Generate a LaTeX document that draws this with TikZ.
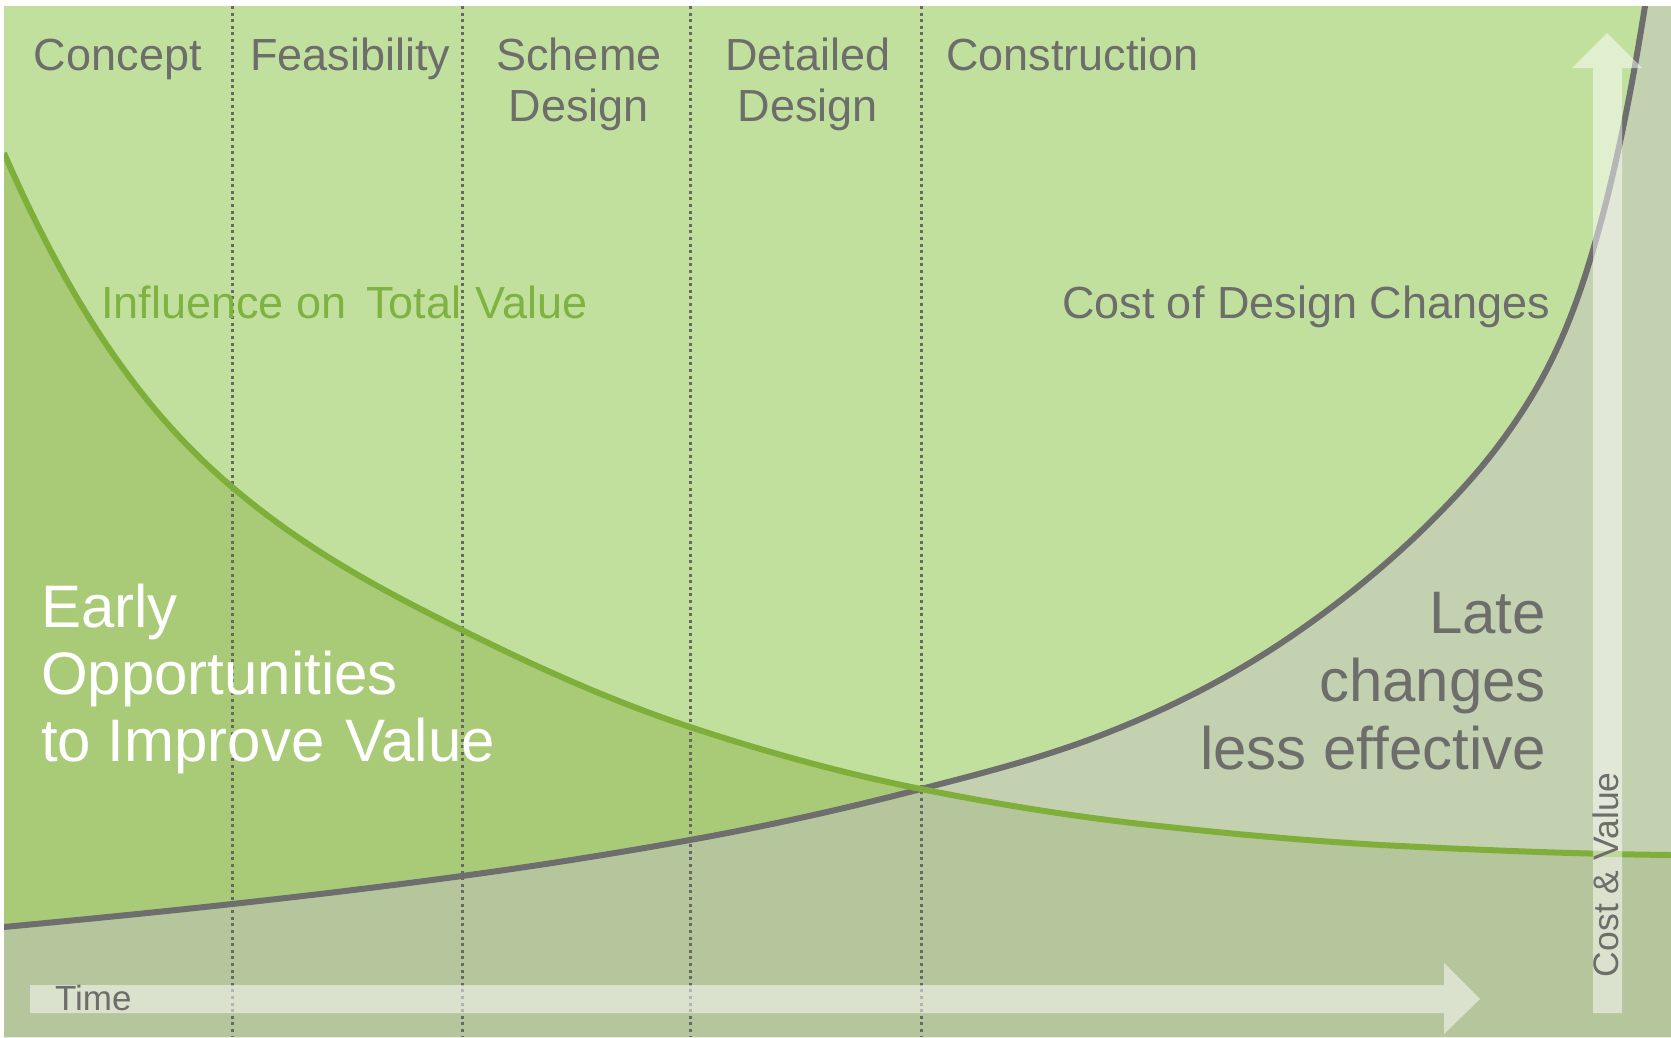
\documentclass[tikz,border=0pt]{standalone}
\usepackage{fontspec}
\setmainfont{Liberation Sans}
\definecolor{bglight}{HTML}{C1E09D}
\definecolor{midgreen}{HTML}{A9CB77}
\definecolor{graygreen}{HTML}{C3D1B0}
\definecolor{lowgreen}{HTML}{B6C69C}
\definecolor{greenline}{HTML}{7FAF3A}
\definecolor{grayline}{HTML}{6E6E6E}
\definecolor{textgray}{HTML}{6D6E6B}
\definecolor{textgreen}{HTML}{80B242}
\definecolor{dotgray}{HTML}{676965}
\begin{document}
\begin{tikzpicture}[x=1pt,y=-1pt,
  lab/.style={inner sep=0pt, outer sep=0pt},
  toplab/.style={lab, text=textgray, font=\fontsize{45}{51}\selectfont},
  biglab/.style={lab, font=\fontsize{60}{68}\selectfont},
  smalllab/.style={lab, text=textgray},
  phase/.style={dotgray, line width=3pt, dash pattern=on 3pt off 3.6pt},
  curveline/.style={line width=6pt},
  axisarrow/.style={fill=white, fill opacity=0.5}
]
\def\greenpath{(4,153) .. controls (80,327.8) and (156,422.4) .. (232,487)
  .. controls (308.7,552.2) and (385.3,591.7) .. (462,630)
  .. controls (538,668) and (614,701.9) .. (690,727)
  .. controls (767,752.4) and (844,773.6) .. (921,789)
  .. controls (997.3,804.3) and (1073.7,816.6) .. (1150,825)
  .. controls (1233.3,834.2) and (1316.7,841.8) .. (1400,846)
  .. controls (1490.3,850.5) and (1580.7,854.1) .. (1671,855)}
\def\graypath{(4,927) .. controls (80,919.8) and (156,912.4) .. (232,904)
  .. controls (308.7,895.6) and (385.3,886.4) .. (462,876)
  .. controls (538,865.7) and (614,853.7) .. (690,840)
  .. controls (767,826.1) and (844,809) .. (921,789)
  .. controls (980.7,773.5) and (1040.3,758.6) .. (1100,735.6)
  .. controls (1166.7,709.9) and (1233.3,676.8) .. (1300,630.2)
  .. controls (1350,595.2) and (1400,554.5) .. (1450,502)
  .. controls (1475.7,475.05) and (1501.3,444.93) .. (1527,404)
  .. controls (1549,368.8) and (1571,325.2) .. (1593,250)
  .. controls (1610.3,191.1) and (1627.7,115.2) .. (1645,6) -- (1649,-19)}
\useasboundingbox (0,0) rectangle (1671,1037);
\fill[white] (0,0) rectangle (1671,1037);
\begin{scope}
\clip (4,6) rectangle (1671,1037);
\fill[bglight] (4,6) rectangle (1671,1037);
% area under the value curve
\fill[midgreen] (4,1037) -- \greenpath -- (1671,1037) -- cycle;
% area under the cost curve
\fill[graygreen] (4,1037) -- \graypath -- (1671,-19) -- (1671,1037) -- cycle;
% area under both curves
\begin{scope}
\clip (4,1037) -- \greenpath -- (1671,1037) -- cycle;
\fill[lowgreen] (4,1037) -- \graypath -- (1671,-19) -- (1671,1037) -- cycle;
\end{scope}
% phase separators
\coordinate (p1t) at (232,6);  \coordinate (p1b) at (232,1037);
\coordinate (p2t) at (462,6);  \coordinate (p2b) at (462,1037);
\coordinate (p3t) at (690,6);  \coordinate (p3b) at (690,1037);
\coordinate (p4t) at (921,6);  \coordinate (p4b) at (921,1037);
\draw[phase] (p1t) -- (p1b);
\draw[phase] (p2t) -- (p2b);
\draw[phase] (p3t) -- (p3b);
\draw[phase] (p4t) -- (p4b);
% curves
\draw[curveline, grayline] \graypath;
\draw[curveline, greenline] \greenpath;
% axis arrows
\fill[axisarrow] (30,985) -- (1444,985) -- (1444,963) -- (1480,999) -- (1444,1034) -- (1444,1013) -- (30,1013) -- cycle;
\fill[axisarrow] (1593,1013) -- (1593,68) -- (1572,68) -- (1607,33) -- (1642,68) -- (1622,68) -- (1622,1013) -- cycle;
\end{scope}
% phase labels
\node[toplab, anchor=base west] (concept) at (34,70) {Concept};
\node[toplab, anchor=base west] (feas) at (250,70) {Feasibility};
\node[toplab, anchor=base] (scheme) at (579,70) {Scheme};
\node[toplab, anchor=base] (schemeb) at (579,121) {Design};
\node[toplab, anchor=base] (detailed) at (808,70) {Detailed};
\node[toplab, anchor=base] (detailedb) at (808,121) {Design};
\node[toplab, anchor=base west] (constr) at (946,70) {Construction};
% curve labels
\node[toplab, text=textgreen, anchor=base west] (infl) at (101,318) {Influence on\hspace{0.45em}Total\hspace{0.32em}Value};
\node[toplab, anchor=base west] (costdc) at (1062,318) {Cost of Design Changes};
% region labels
\node[biglab, text=white, anchor=base west] (early1) at (41,627) {Early};
\node[biglab, text=white, anchor=base west] (early2) at (41,694) {Opportunities};
\node[biglab, text=white, anchor=base west] (early3) at (41,761) {to Improve\hspace{0.36em}Value};
\node[biglab, text=textgray, anchor=base east] (late1) at (1546,633) {Late};
\node[biglab, text=textgray, anchor=base east] (late2) at (1546,701) {changes};
\node[biglab, text=textgray, anchor=base east] (late3) at (1546,769) {less effective};
% axis labels
\node[smalllab, font=\fontsize{35}{40}\selectfont, anchor=base west] (time) at (55,1010) {Time};
\node[smalllab, font=\fontsize{35.5}{40}\selectfont, rotate=90, anchor=base west] (cv) at (1618,977) {Cost \& Value};
\end{tikzpicture}
\end{document}
